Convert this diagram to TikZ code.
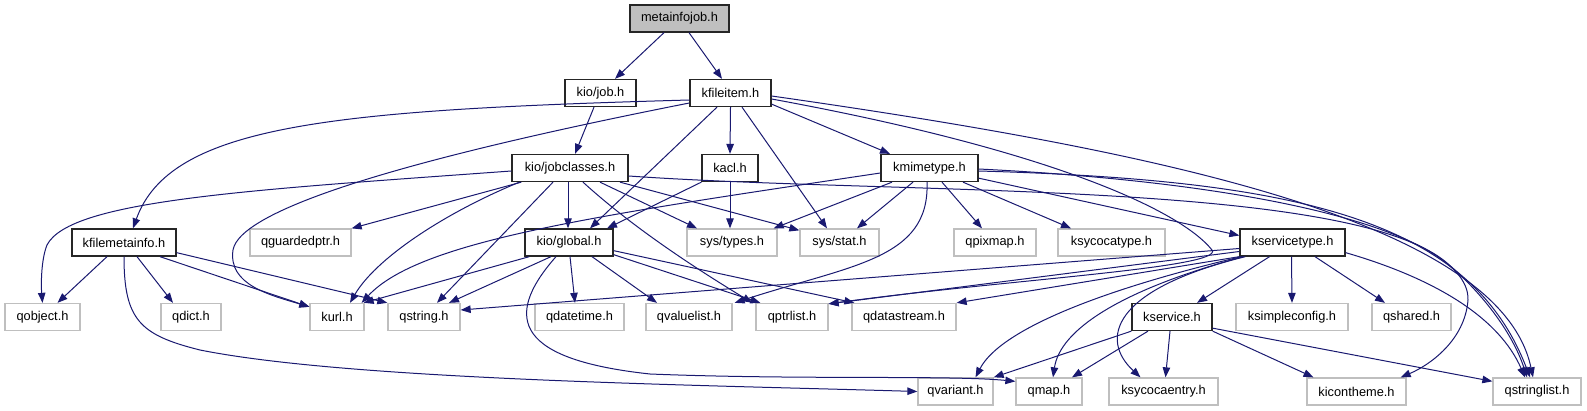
\documentclass[tikz,border=0pt]{standalone}
\usepackage{fontspec}
\newfontfamily\dfont{Liberation Sans}
\usetikzlibrary{arrows.meta}
\definecolor{edgeblue}{HTML}{191970}
\definecolor{grayborder}{HTML}{BFBFBF}
\definecolor{grayfill}{HTML}{BFBFBF}
\begin{document}
\begin{tikzpicture}[x=1pt,y=-1pt,
  nd/.style={draw=black!85, line width=1.3pt, fill=white, minimum height=27pt, inner sep=0pt,
    font=\dfont\fontsize{12.8}{14}\selectfont, anchor=center},
  ng/.style={nd, draw=grayborder},
  e/.style={draw=edgeblue, line width=1pt, -{Triangle[length=10pt,width=7.5pt]}, fill=none}
]
\useasboundingbox (0,0) rectangle (1587,411);
% row 0
\node[nd, fill=grayfill, minimum width=99pt] (metainfojob) at (679.5,18.5) {metainfojob.h};
% row 1
\node[nd, minimum width=71pt] (kiojob) at (600.5,93) {kio/job.h};
\node[nd, minimum width=81pt] (kfileitem) at (730.5,93) {kfileitem.h};
% row 2
\node[nd, minimum width=116pt] (jobclasses) at (570,168) {kio/jobclasses.h};
\node[nd, minimum width=56pt] (kacl) at (730,168) {kacl.h};
\node[nd, minimum width=97pt] (kmimetype) at (929.5,168) {kmimetype.h};
% row 3
\node[nd, minimum width=104pt] (kfilemetainfo) at (124,242.5) {kfilemetainfo.h};
\node[ng, minimum width=101pt] (qguardedptr) at (300.5,242.5) {qguardedptr.h};
\node[nd, minimum width=88pt] (kioglobal) at (569,242.5) {kio/global.h};
\node[ng, minimum width=90pt] (systypes) at (732,242.5) {sys/types.h};
\node[ng, minimum width=79pt] (sysstat) at (839.5,242.5) {sys/stat.h};
\node[ng, minimum width=82pt] (qpixmap) at (995,242.5) {qpixmap.h};
\node[ng, minimum width=107pt] (ksycocatype) at (1111.5,242.5) {ksycocatype.h};
\node[nd, minimum width=105pt] (kservicetype) at (1292.5,242.5) {kservicetype.h};
% row 4
\node[ng, minimum width=75pt] (qobject) at (42.5,317) {qobject.h};
\node[ng, minimum width=60pt] (qdict) at (191,317) {qdict.h};
\node[ng, minimum width=54pt] (kurl) at (337,317) {kurl.h};
\node[ng, minimum width=72pt] (qstring) at (424,317) {qstring.h};
\node[ng, minimum width=89pt] (qdatetime) at (579.5,317) {qdatetime.h};
\node[ng, minimum width=86pt] (qvaluelist) at (689,317) {qvaluelist.h};
\node[ng, minimum width=72pt] (qptrlist) at (792,317) {qptrlist.h};
\node[ng, minimum width=104pt] (qdatastream) at (904,317) {qdatastream.h};
\node[nd, minimum width=80pt] (kservice) at (1172,317) {kservice.h};
\node[ng, minimum width=112pt] (ksimpleconfig) at (1292,317) {ksimpleconfig.h};
\node[ng, minimum width=79pt] (qshared) at (1411.5,317) {qshared.h};
% row 5
\node[ng, minimum width=75pt] (qvariant) at (955.5,391.5) {qvariant.h};
\node[ng, minimum width=66pt] (qmap) at (1049,391.5) {qmap.h};
\node[ng, minimum width=109pt] (ksycocaentry) at (1163.5,391.5) {ksycocaentry.h};
\node[ng, minimum width=99pt] (kicontheme) at (1356.5,391.5) {kicontheme.h};
\node[ng, minimum width=88pt] (qstringlist) at (1537,391.5) {qstringlist.h};

% metainfojob
\draw[e] ([xshift=-15.5pt]metainfojob.south) -- ([xshift=14.5pt]kiojob.north);
\draw[e] ([xshift=9.5pt]metainfojob.south) -- ([xshift=-8.5pt]kfileitem.north);
% kio/job
\draw[e] ([xshift=-6.5pt]kiojob.south) -- ([xshift=5pt]jobclasses.north);
% kfileitem
\draw[e] ([yshift=-7pt]kfileitem.west) .. controls (330,110) and (170,125) .. ([xshift=9pt]kfilemetainfo.north);
\draw[e] ([yshift=-10pt]kfileitem.west) .. controls (400,160) and (240,210) .. (233,250) .. controls (228,285) and (270,295) .. ([yshift=-4pt]kurl.north west);
\draw[e] ([xshift=-13.5pt]kfileitem.south) -- ([xshift=21pt]kioglobal.north);
\draw[e] (kfileitem.south) -- (kacl.north);
\draw[e] ([xshift=11.5pt]kfileitem.south) -- ([xshift=-12.5pt]sysstat.north);
\draw[e] ([yshift=3pt]kfileitem.south east) -- ([xshift=-39.5pt]kmimetype.north);
\draw[e] ([yshift=-3pt]kfileitem.east) .. controls (1150,150) and (1500,220) .. ([xshift=-4pt]qstringlist.north);
\draw[e] ([yshift=-6pt]kfileitem.east) .. controls (1050,150) and (1180,210) .. (1212,250) .. controls (1225,268) and (1000,280) .. ([yshift=-1pt]qptrlist.north east);
% jobclasses
\draw[e] ([yshift=-3pt]jobclasses.west) .. controls (250,190) and (70,200) .. (47,245) .. controls (41,260) and (41,285) .. (qobject.north);
\draw[e] ([xshift=10pt]jobclasses.south west) -- (qguardedptr.north east);
\draw[e] ([xshift=8pt]jobclasses.south west) .. controls (440,215) and (375,260) .. ([xshift=13pt]kurl.north);
\draw[e] ([xshift=-17pt]jobclasses.south) -- ([xshift=13pt]qstring.north);
\draw[e] ([xshift=-2pt]jobclasses.south) -- ([xshift=-1pt]kioglobal.north);
\draw[e] ([xshift=13pt]jobclasses.south) .. controls (630,225) and (690,265) .. ([xshift=-3pt]qptrlist.north west);
\draw[e] ([xshift=30pt]jobclasses.south) -- ([xshift=-35pt]systypes.north);
\draw[e] ([xshift=50pt]jobclasses.south) -- ([yshift=-2pt]sysstat.north west);
\draw[e] ([yshift=-8pt]jobclasses.east) .. controls (900,195) and (1350,180) .. (1447,263) .. controls (1490,300) and (1515,340) .. ([xshift=-10pt]qstringlist.north);
% kacl
\draw[e] (kacl.south) -- ([xshift=-2pt]systypes.north);
\draw[e] (kacl.south west) -- ([xshift=38pt]kioglobal.north);
% kmimetype
\draw[e] ([yshift=-5pt]kmimetype.west) .. controls (600,215) and (420,240) .. ([xshift=-3pt]kurl.north east);
\draw[e] ([xshift=-37.5pt]kmimetype.south) -- ([xshift=-4pt]systypes.north east);
\draw[e] ([xshift=-16.5pt]kmimetype.south) -- ([xshift=17.5pt]sysstat.north);
\draw[e] ([xshift=-2.5pt]kmimetype.south) .. controls (930,260) and (850,265) .. ([xshift=2pt]qvaluelist.north east);
\draw[e] ([xshift=12.5pt]kmimetype.south) -- ([xshift=-13pt]qpixmap.north);
\draw[e] ([xshift=33.5pt]kmimetype.south) -- ([xshift=-40.5pt]ksycocatype.north);
\draw[e] ([yshift=4pt]kmimetype.south east) -- ([yshift=7pt]kservicetype.west);
\draw[e] ([yshift=-3pt]kmimetype.east) .. controls (1300,180) and (1470,220) .. ([xshift=-7pt]qstringlist.north);
\draw[e] ([yshift=-1pt]kmimetype.east) .. controls (1300,185) and (1470,240) .. (1468,300) .. controls (1465,340) and (1430,365) .. ([xshift=-6pt]kicontheme.north east);
% kfilemetainfo
\draw[e] ([xshift=-17pt]kfilemetainfo.south) -- ([xshift=15pt]qobject.north);
\draw[e] ([xshift=13pt]kfilemetainfo.south) -- ([xshift=-18pt]qdict.north);
\draw[e] (kfilemetainfo.south) .. controls (124,320) and (140,335) .. (200,350) .. controls (350,380) and (700,385) .. (qvariant.west);
\draw[e] ([xshift=36pt]kfilemetainfo.south) -- ([yshift=-4pt]kurl.north west);
\draw[e] ([yshift=4pt]kfilemetainfo.south east) -- (qstring.north west);
% kio/global
\draw[e] ([xshift=5pt]kioglobal.south west) -- ([xshift=-1pt]kurl.north east);
\draw[e] ([xshift=-18pt]kioglobal.south) -- ([xshift=25pt]qstring.north);
\draw[e] ([xshift=1pt]kioglobal.south) -- ([xshift=-4.5pt]qdatetime.north);
\draw[e] ([xshift=23pt]kioglobal.south) -- ([xshift=-32pt]qvaluelist.north);
\draw[e] ([yshift=2pt]kioglobal.south east) -- ([xshift=5pt]qptrlist.north west);
\draw[e] ([yshift=6pt]kioglobal.south east) -- ([xshift=3pt]qdatastream.north west);
\draw[e] ([xshift=-13pt]kioglobal.south) .. controls (500,320) and (520,360) .. (650,374) .. controls (800,380) and (950,375) .. ([yshift=-4pt]qmap.north west);
% kservicetype
\draw[e] ([yshift=-6pt]kservicetype.west) -- ([yshift=7pt]qstring.east);
\draw[e] ([yshift=-9pt]kservicetype.west) -- ([yshift=-1pt]qptrlist.north east);
\draw[e] (kservicetype.south west) -- (qdatastream.north east);
\draw[e] ([xshift=2pt]kservicetype.south west) .. controls (1100,290) and (1000,330) .. ([xshift=20pt]qvariant.north);
\draw[e] ([xshift=4pt]kservicetype.south west) .. controls (1120,290) and (1060,330) .. ([xshift=4pt]qmap.north);
\draw[e] ([xshift=6pt]kservicetype.south west) .. controls (1110,290) and (1100,340) .. ([xshift=-23pt]ksycocaentry.north);
\draw[e] ([xshift=-23pt]kservicetype.south) -- ([xshift=25pt]kservice.north);
\draw[e] ([xshift=-1pt]kservicetype.south) -- (ksimpleconfig.north);
\draw[e] ([xshift=22.5pt]kservicetype.south) -- ([xshift=-26.5pt]qshared.north);
\draw[e] ([yshift=4pt]kservicetype.south east) .. controls (1440,280) and (1500,320) .. ([xshift=-12pt]qstringlist.north);
% kservice
\draw[e] (kservice.south west) -- (qvariant.north east);
\draw[e] ([xshift=-24pt]kservice.south) -- ([xshift=23pt]qmap.north);
\draw[e] ([xshift=-2pt]kservice.south) -- ([xshift=2pt]ksycocaentry.north);
\draw[e] (kservice.south east) -- ([xshift=-43pt]kicontheme.north);
\draw[e] ([yshift=3pt]kservice.south east) -- ([yshift=-4pt]qstringlist.north west);
\end{tikzpicture}
\end{document}
